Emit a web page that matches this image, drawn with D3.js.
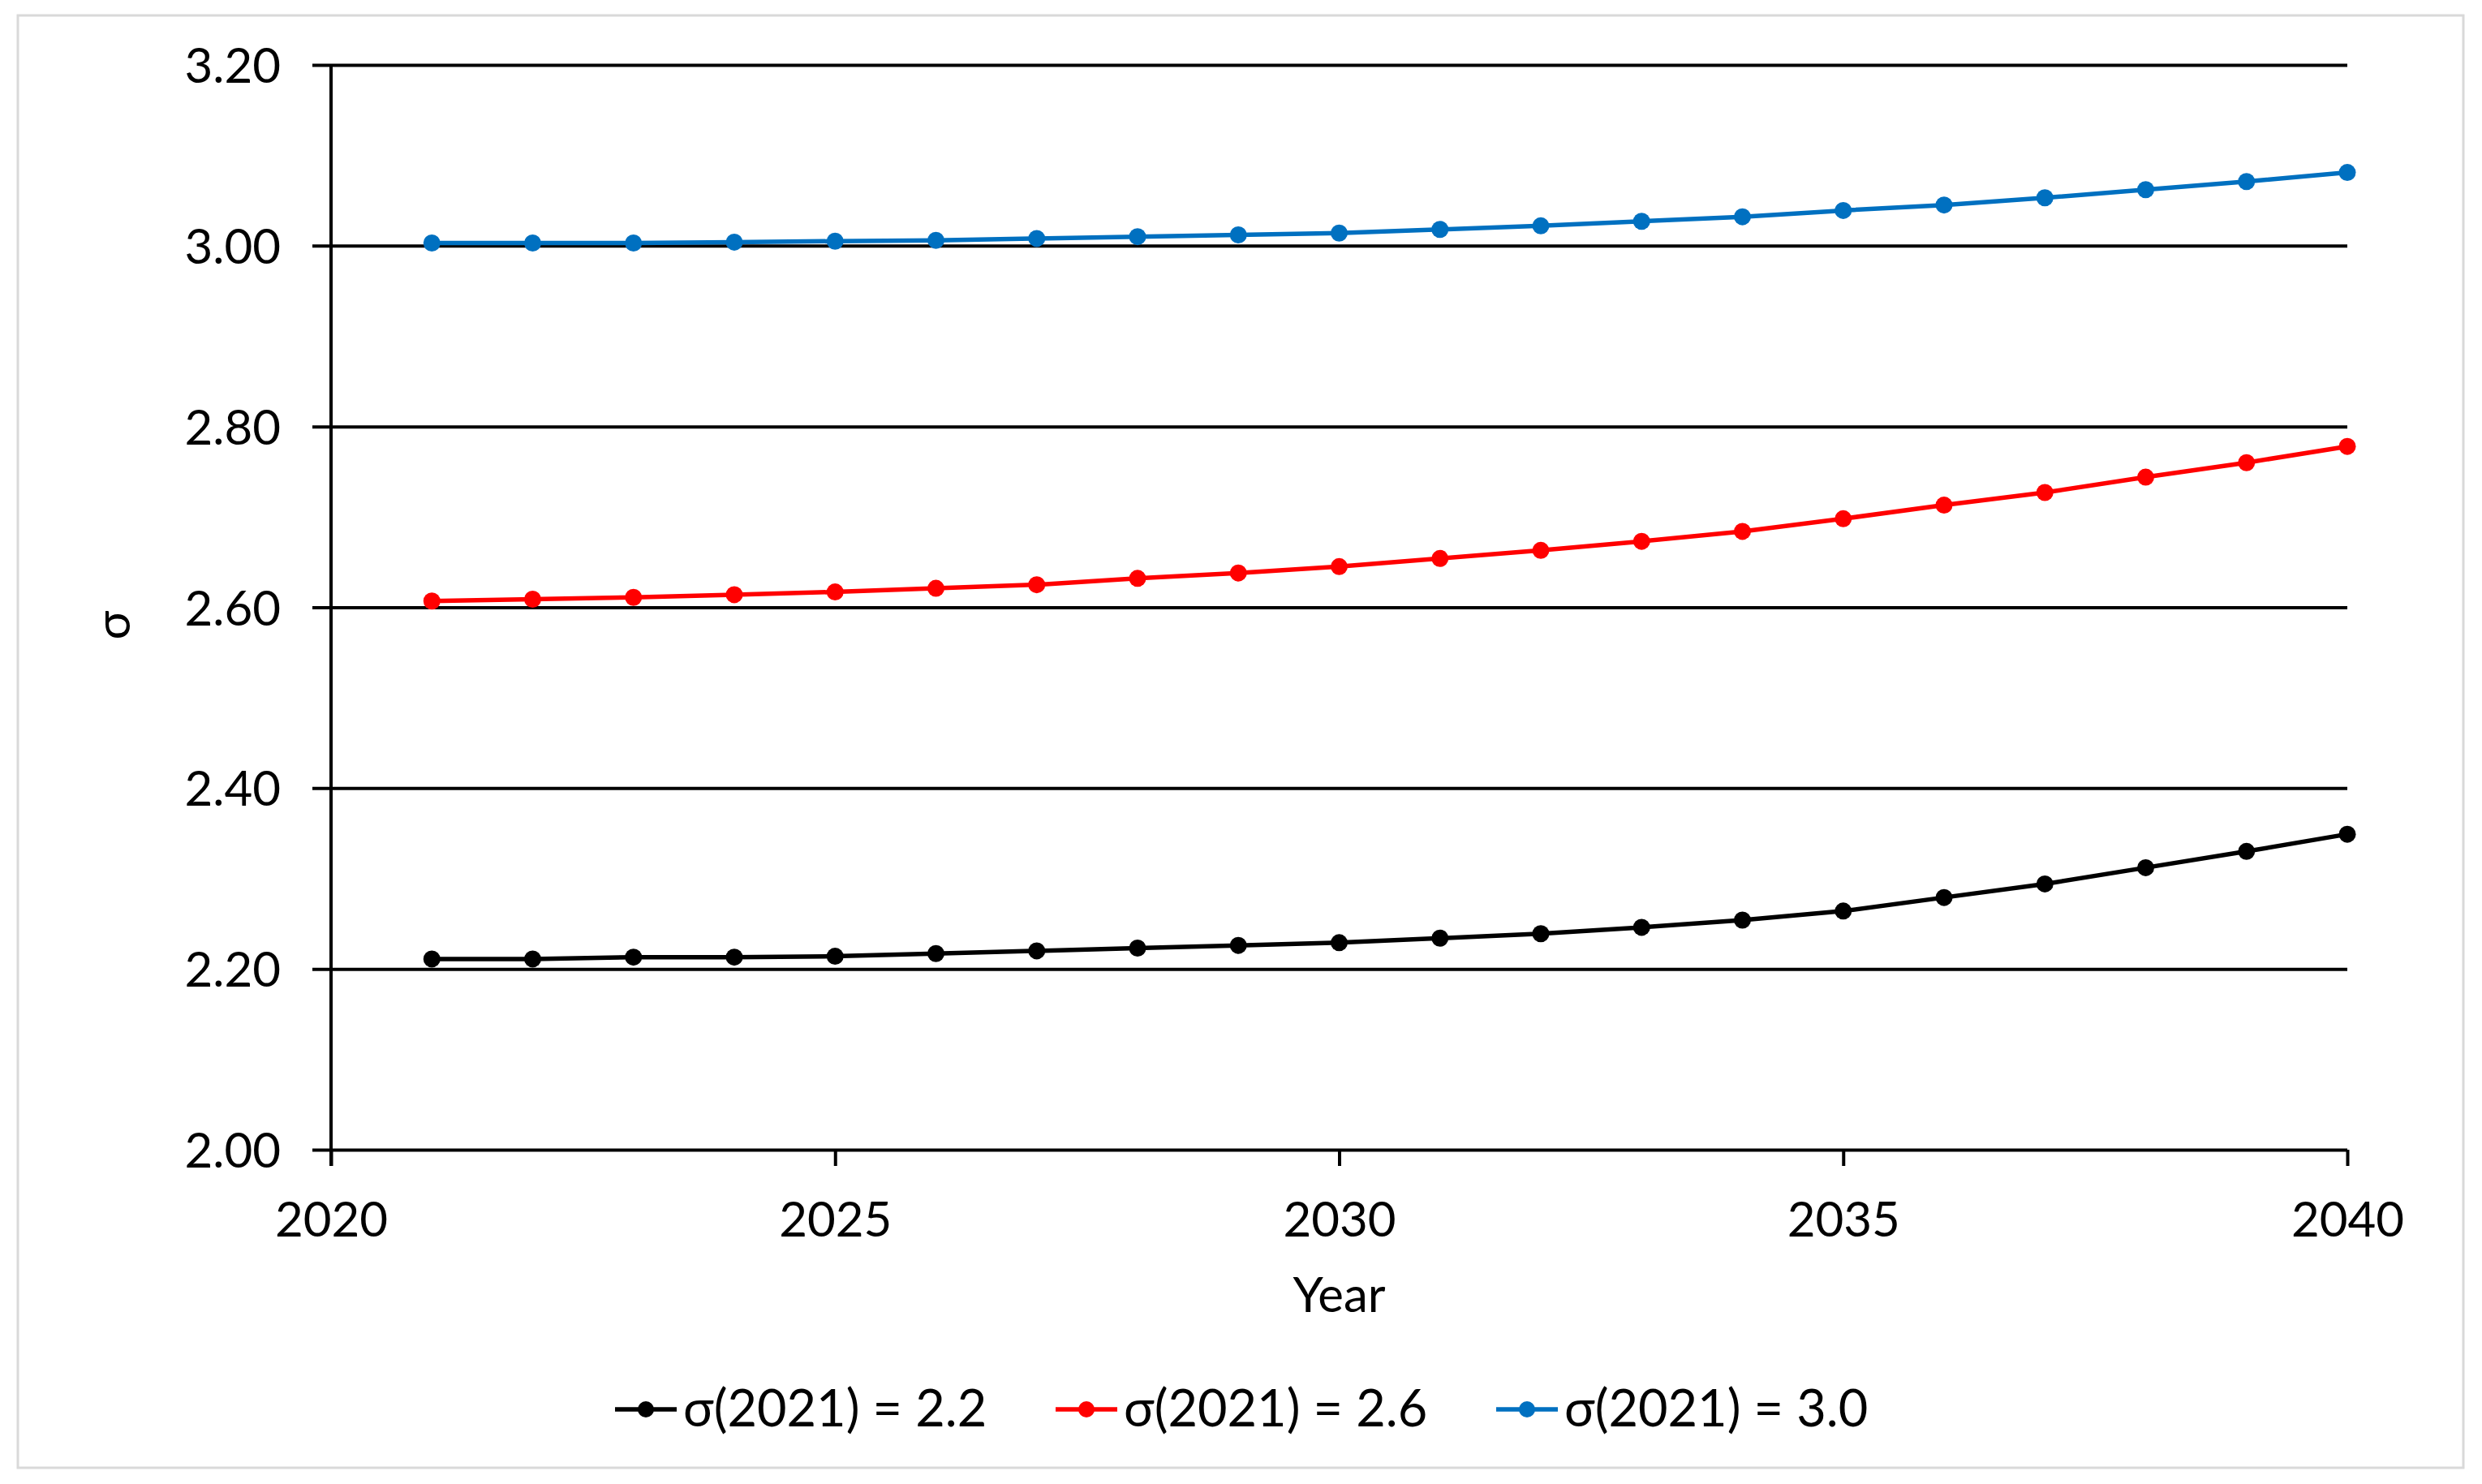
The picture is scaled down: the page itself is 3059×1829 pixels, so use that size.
<!DOCTYPE html>
<meta charset="utf-8">
<style>
  body { margin: 0; background: #fff; }
  text { font-family: Lato, "Open Sans", sans-serif; fill: #000; }
</style>
<svg width="3059" height="1829"></svg>
<script src="https://d3js.org/d3.v7.min.js"></script>
<script>

// data
var years = [2021, 2022, 2023, 2024, 2025, 2026, 2027, 2028, 2029, 2030,
             2031, 2032, 2033, 2034, 2035, 2036, 2037, 2038, 2039, 2040];
var sigma22 = [2.211, 2.211, 2.213, 2.213, 2.214, 2.217, 2.220, 2.223, 2.226, 2.229,
               2.234, 2.239, 2.246, 2.254, 2.264, 2.279, 2.294, 2.312, 2.330, 2.349];
var sigma26 = [2.607, 2.609, 2.611, 2.614, 2.617, 2.621, 2.625, 2.632, 2.638, 2.645,
               2.654, 2.663, 2.673, 2.684, 2.698, 2.713, 2.727, 2.744, 2.760, 2.778];
var sigma30 = [3.003, 3.003, 3.003, 3.004, 3.005, 3.006, 3.008, 3.010, 3.012, 3.014,
               3.018, 3.022, 3.027, 3.032, 3.039, 3.045, 3.053, 3.062, 3.071, 3.081];
var seriesNames = ["σ(2021) = 2.2", "σ(2021) = 2.6", "σ(2021) = 3.0"];
var xTicks = [2020, 2025, 2030, 2035, 2040];
var yTicks = [2.0, 2.2, 2.4, 2.6, 2.8, 3.0, 3.2];

var colors = ["#000000", "#ff0000", "#0070c0"];
var series = [sigma22, sigma26, sigma30].map(function(vals, i) {
  return { name: seriesNames[i], color: colors[i],
           values: vals.map(function(v, j) { return { year: years[j], value: v }; }) };
});

var svg = d3.select("svg"),
    margin = { top: 80, right: 166, bottom: 412, left: 408 },
    width = +svg.attr("width") - margin.left - margin.right,
    height = +svg.attr("height") - margin.top - margin.bottom;

// light frame around the whole chart
svg.append("rect")
    .attr("x", 22).attr("y", 19)
    .attr("width", 3014).attr("height", 1790)
    .attr("fill", "none")
    .attr("stroke", "#d9d9d9")
    .attr("stroke-width", 3);

var g = svg.append("g").attr("transform", "translate(" + margin.left + "," + margin.top + ")");

var x = d3.scaleLinear().domain([2020, 2040]).range([0, width]);
var y = d3.scaleLinear().domain([2.0, 3.2]).range([height, 0]);

// horizontal gridlines with the left ticks
var yAxis = g.append("g")
    .call(d3.axisLeft(y)
        .tickValues(yTicks)
        .tickSize(-width)
        .tickPadding(62)
        .tickFormat(d3.format(".2f")));
yAxis.select(".domain").remove();
yAxis.selectAll(".tick line")
    .attr("x1", -23)
    .attr("stroke", "#000")
    .attr("stroke-width", 4);
yAxis.selectAll(".tick text")
    .attr("font-size", 60)
    .attr("dy", "0.36em");

// vertical axis line
g.append("line")
    .attr("x1", 0).attr("x2", 0)
    .attr("y1", 0).attr("y2", height + 20)
    .attr("stroke", "#000")
    .attr("stroke-width", 4);

var xAxis = g.append("g")
    .attr("transform", "translate(0," + height + ")")
    .call(d3.axisBottom(x)
        .tickValues(xTicks)
        .tickSize(20)
        .tickPadding(44)
        .tickFormat(d3.format("d")));
xAxis.select(".domain").remove();
xAxis.selectAll(".tick line")
    .attr("stroke", "#000")
    .attr("stroke-width", 4);
xAxis.selectAll(".tick text")
    .attr("font-size", 60);

// axis titles
g.append("text")
    .attr("x", width / 2)
    .attr("y", height + 200)
    .attr("text-anchor", "middle")
    .attr("font-size", 60)
    .text("Year");

svg.append("text")
    .attr("transform", "translate(160," + (margin.top + height / 2 + 22) + ")rotate(-90)")
    .attr("text-anchor", "middle")
    .attr("font-size", 60)
    .text("σ");

var line = d3.line()
    .x(function(d) { return x(d.year); })
    .y(function(d) { return y(d.value); });

var s = g.selectAll(".series")
    .data(series)
    .enter().append("g")
      .attr("class", "series");

s.append("path")
    .attr("d", function(d) { return line(d.values); })
    .attr("fill", "none")
    .attr("stroke", function(d) { return d.color; })
    .attr("stroke-width", 5.5);

s.selectAll("circle")
    .data(function(d) { return d.values.map(function(v) { return { v: v, color: d.color }; }); })
    .enter().append("circle")
      .attr("cx", function(d) { return x(d.v.year); })
      .attr("cy", function(d) { return y(d.v.value); })
      .attr("r", 10.5)
      .attr("fill", function(d) { return d.color; });

// legend
var legend = svg.append("g")
    .selectAll("g")
    .data(series)
    .enter().append("g")
      .attr("transform", function(d, i) { return "translate(" + (758 + i * 543) + ",1737)"; });

legend.append("line")
    .attr("x1", 0).attr("x2", 76)
    .attr("stroke", function(d) { return d.color; })
    .attr("stroke-width", 5.5);

legend.append("circle")
    .attr("cx", 38)
    .attr("r", 10)
    .attr("fill", function(d) { return d.color; });

legend.append("text")
    .attr("x", 84)
    .attr("y", 21)
    .attr("font-size", 63)
    .text(function(d) { return d.name; });

</script>
